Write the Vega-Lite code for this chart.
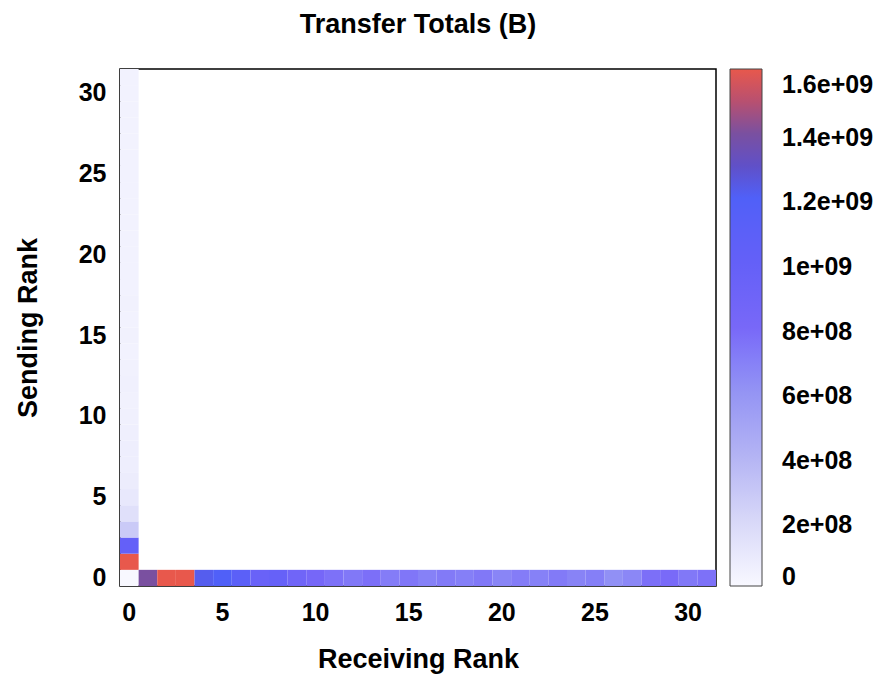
{
  "$schema": "https://vega.github.io/schema/vega-lite/v6.json",
  "autosize": "none",
  "padding": {"left": 120, "top": 69, "right": 171, "bottom": 91},
  "width": 596,
  "height": 517,
  "background": "white",
  "title": {
    "text": "Transfer Totals (B)",
    "font": "Liberation Sans, Arial",
    "fontSize": 27,
    "fontWeight": "bold",
    "color": "black",
    "anchor": "middle",
    "offset": 30
  },
  "config": {
    "view": {"stroke": "black", "strokeWidth": 1.5},
    "font": "Liberation Sans, Arial",
    "axis": {
      "labelFont": "Liberation Sans, Arial",
      "titleFont": "Liberation Sans, Arial",
      "labelFontSize": 25,
      "labelFontWeight": "bold",
      "labelColor": "black",
      "titleFontSize": 27,
      "titleFontWeight": "bold",
      "titleColor": "black",
      "ticks": false,
      "domain": false,
      "grid": false
    },
    "legend": {
      "labelFont": "Liberation Sans, Arial",
      "labelFontSize": 25,
      "labelFontWeight": "bold",
      "labelColor": "black"
    }
  },
  "data": {
    "values": [
      {"r": 0, "s": 0, "v": 0},
      {"r": 1, "s": 0, "v": 1400000000},
      {"r": 2, "s": 0, "v": 1600000000},
      {"r": 3, "s": 0, "v": 1600000000},
      {"r": 4, "s": 0, "v": 1220000000},
      {"r": 5, "s": 0, "v": 1200000000},
      {"r": 6, "s": 0, "v": 1100000000},
      {"r": 7, "s": 0, "v": 950000000},
      {"r": 8, "s": 0, "v": 980000000},
      {"r": 9, "s": 0, "v": 880000000},
      {"r": 10, "s": 0, "v": 820000000},
      {"r": 11, "s": 0, "v": 760000000},
      {"r": 12, "s": 0, "v": 730000000},
      {"r": 13, "s": 0, "v": 770000000},
      {"r": 14, "s": 0, "v": 710000000},
      {"r": 15, "s": 0, "v": 740000000},
      {"r": 16, "s": 0, "v": 690000000},
      {"r": 17, "s": 0, "v": 720000000},
      {"r": 18, "s": 0, "v": 700000000},
      {"r": 19, "s": 0, "v": 730000000},
      {"r": 20, "s": 0, "v": 670000000},
      {"r": 21, "s": 0, "v": 710000000},
      {"r": 22, "s": 0, "v": 690000000},
      {"r": 23, "s": 0, "v": 720000000},
      {"r": 24, "s": 0, "v": 680000000},
      {"r": 25, "s": 0, "v": 700000000},
      {"r": 26, "s": 0, "v": 620000000},
      {"r": 27, "s": 0, "v": 660000000},
      {"r": 28, "s": 0, "v": 770000000},
      {"r": 29, "s": 0, "v": 790000000},
      {"r": 30, "s": 0, "v": 730000000},
      {"r": 31, "s": 0, "v": 760000000},
      {"r": 0, "s": 1, "v": 1600000000},
      {"r": 0, "s": 2, "v": 1000000000},
      {"r": 0, "s": 3, "v": 280000000},
      {"r": 0, "s": 4, "v": 150000000},
      {"r": 0, "s": 5, "v": 100000000},
      {"r": 0, "s": 6, "v": 75000000},
      {"r": 0, "s": 7, "v": 65000000},
      {"r": 0, "s": 8, "v": 60000000},
      {"r": 0, "s": 9, "v": 55000000},
      {"r": 0, "s": 10, "v": 50000000},
      {"r": 0, "s": 11, "v": 45000000},
      {"r": 0, "s": 12, "v": 50000000},
      {"r": 0, "s": 13, "v": 45000000},
      {"r": 0, "s": 14, "v": 40000000},
      {"r": 0, "s": 15, "v": 45000000},
      {"r": 0, "s": 16, "v": 40000000},
      {"r": 0, "s": 17, "v": 45000000},
      {"r": 0, "s": 18, "v": 40000000},
      {"r": 0, "s": 19, "v": 35000000},
      {"r": 0, "s": 20, "v": 40000000},
      {"r": 0, "s": 21, "v": 35000000},
      {"r": 0, "s": 22, "v": 40000000},
      {"r": 0, "s": 23, "v": 35000000},
      {"r": 0, "s": 24, "v": 40000000},
      {"r": 0, "s": 25, "v": 35000000},
      {"r": 0, "s": 26, "v": 40000000},
      {"r": 0, "s": 27, "v": 35000000},
      {"r": 0, "s": 28, "v": 40000000},
      {"r": 0, "s": 29, "v": 35000000},
      {"r": 0, "s": 30, "v": 35000000},
      {"r": 0, "s": 31, "v": 35000000}
    ]
  },
  "mark": {"type": "rect", "strokeWidth": 0},
  "encoding": {
    "x": {
      "field": "r",
      "type": "ordinal",
      "title": "Receiving Rank",
      "scale": {
        "domain": [0,1,2,3,4,5,6,7,8,9,10,11,12,13,14,15,16,17,18,19,20,21,22,23,24,25,26,27,28,29,30,31],
        "paddingInner": 0,
        "paddingOuter": 0
      },
      "axis": {
        "values": [0,5,10,15,20,25,30],
        "labelAngle": 0,
        "labelPadding": 14,
        "titlePadding": 21
      }
    },
    "y": {
      "field": "s",
      "type": "ordinal",
      "title": "Sending Rank",
      "scale": {
        "domain": [31,30,29,28,27,26,25,24,23,22,21,20,19,18,17,16,15,14,13,12,11,10,9,8,7,6,5,4,3,2,1,0],
        "paddingInner": 0,
        "paddingOuter": 0
      },
      "axis": {
        "values": [0,5,10,15,20,25,30],
        "labelPadding": 14,
        "titlePadding": 36
      }
    },
    "color": {
      "field": "v",
      "type": "quantitative",
      "title": null,
      "scale": {
        "type": "linear",
        "domain": [0, 200000000, 400000000, 600000000, 800000000, 1000000000, 1200000000, 1300000000, 1400000000, 1500000000, 1600000000],
        "range": ["#f8f8ff", "#d8d8f8", "#b4b4f4", "#9494f4", "#7868f8", "#6460f8", "#5060f8", "#6050c8", "#7a50a0", "#b85070", "#e8584c"]
      },
      "legend": {
        "orient": "right",
        "offset": 14,
        "gradientLength": 517,
        "gradientThickness": 32,
        "gradientStrokeColor": "#444444",
        "gradientStrokeWidth": 1,
        "labelOffset": 20,
        "labelBaseline": "middle",
        "values": [0, 200000000, 400000000, 600000000, 800000000, 1000000000, 1200000000, 1400000000, 1600000000],
        "labelExpr": "datum.value == 0 ? '0' : replace(format(datum.value, '~e'), 'e+', 'e+0')",
        "encode": {"labels": {"update": {"dy": {"value": 4}}}}
      }
    }
  }
}
